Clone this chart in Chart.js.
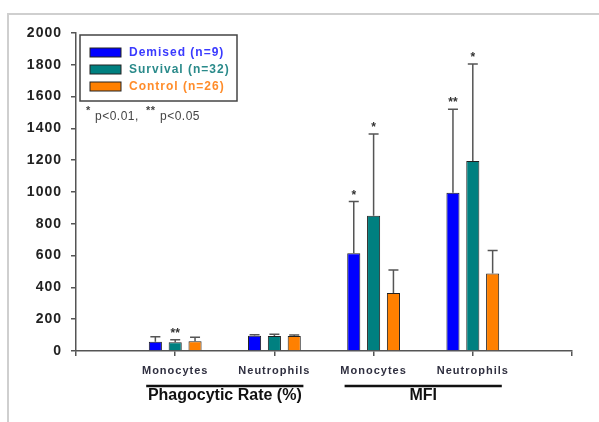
<!DOCTYPE html>
<html>
<head>
<meta charset="utf-8">
<script src="https://cdn.jsdelivr.net/npm/chart.js@4"></script>
<style>
    body { margin: 0; background: #fff; }
    #wrap { position: relative; width: 599px; height: 422px; }
    #frame { position: absolute; left: 7px; top: 13px; right: -5px; bottom: -5px; border-left: 2px solid #cfcfcf; border-top: 2px solid #cfcfcf; }
    canvas { position: absolute; left: 0; top: 0; }
</style>
</head>
<body>
<div id="wrap">
    <div id="frame"></div>
    <canvas id="chart" width="599" height="422"></canvas>
</div>
<script>
// 데이터
const categories = ['', 'Monocytes', 'Neutrophils', 'Monocytes', 'Neutrophils', ''];
const groupLabels = ['Phagocytic Rate (%)', 'MFI'];
const yTicks = [0, 200, 400, 600, 800, 1000, 1200, 1400, 1600, 1800, 2000];

const demised = [null, 58, 96, 615, 995, null];
const demisedErr = [null, 32, 6, 325, 525, null];
const survival = [null, 55, 95, 850, 1195, null];
const survivalErr = [null, 15, 10, 515, 610, null];
const control = [null, 62, 95, 365, 487, null];
const controlErr = [null, 25, 6, 145, 145, null];

const demisedStars = ['', '', '', '*', '**', ''];
const survivalStars = ['', '**', '', '*', '*', ''];
const controlStars = ['', '', '', '', '', ''];

const FONT = "'Liberation Sans', Arial, sans-serif";

// 축 글자 간격
const spacingPlugin = {
    id: 'spacing',
    beforeDraw(chart) { chart.ctx.letterSpacing = '1px'; },
    afterDraw(chart) { chart.ctx.letterSpacing = '0px'; }
};

// 에러바 + 별표
const errorBarPlugin = {
    id: 'errorBars',
    afterDatasetsDraw(chart) {
        const ctx = chart.ctx;
        const y = chart.scales.y;
        chart.data.datasets.forEach((ds, di) => {
            const meta = chart.getDatasetMeta(di);
            meta.data.forEach((bar, i) => {
                const v = ds.data[i];
                if (v === null) return;
                const top = y.getPixelForValue(v + ds.errors[i]);
                ctx.save();
                ctx.letterSpacing = '0px';
                ctx.strokeStyle = '#555';
                ctx.lineWidth = 1.5;
                ctx.beginPath();
                ctx.moveTo(bar.x, bar.y);
                ctx.lineTo(bar.x, top);
                ctx.moveTo(bar.x - 5, top);
                ctx.lineTo(bar.x + 5, top);
                ctx.stroke();
                if (ds.stars[i]) {
                    ctx.fillStyle = '#333';
                    ctx.font = 'bold 12px ' + FONT;
                    ctx.textAlign = 'center';
                    ctx.textBaseline = 'alphabetic';
                    ctx.fillText(ds.stars[i], bar.x, top - 3);
                }
                ctx.restore();
            });
        });
    }
};

// 범례, 그룹 라벨
const extrasPlugin = {
    id: 'extras',
    afterDraw(chart) {
        const ctx = chart.ctx;
        const x = chart.scales.x;
        ctx.save();

        // legend box
        ctx.letterSpacing = '1px';
        ctx.fillStyle = '#fff';
        ctx.fillRect(80, 35, 157, 66);
        ctx.strokeStyle = '#444';
        ctx.lineWidth = 1.5;
        ctx.strokeRect(80, 35, 157, 66);
        const textColors = ['#3a3aff', '#2a8a8a', '#ff8c2a'];
        chart.data.datasets.forEach((ds, i) => {
            const ry = 48 + i * 17;
            ctx.fillStyle = ds.backgroundColor;
            ctx.fillRect(90, ry, 31, 9);
            ctx.strokeStyle = '#222';
            ctx.lineWidth = 1;
            ctx.strokeRect(90, ry, 31, 9);
            ctx.fillStyle = textColors[i];
            ctx.font = 'bold 12px ' + FONT;
            ctx.textBaseline = 'middle';
            ctx.textAlign = 'left';
            ctx.fillText(ds.label, 129, ry + 5);
        });

        // p-value note
        ctx.letterSpacing = '0.5px';
        ctx.fillStyle = '#444';
        ctx.textBaseline = 'alphabetic';
        ctx.font = 'bold 11px ' + FONT;
        ctx.fillText('*', 86, 114);
        ctx.font = '12px ' + FONT;
        ctx.fillText('p<0.01,', 95, 120);
        ctx.font = 'bold 11px ' + FONT;
        ctx.fillText('**', 146, 114);
        ctx.font = '12px ' + FONT;
        ctx.fillText('p<0.05', 160, 120);

        // group brackets
        ctx.letterSpacing = '0px';
        ctx.strokeStyle = '#111';
        ctx.lineWidth = 2.5;
        ctx.fillStyle = '#111';
        ctx.font = 'bold 16px ' + FONT;
        ctx.textAlign = 'center';
        ctx.textBaseline = 'middle';
        groupLabels.forEach((lab, g) => {
            const x1 = x.getPixelForValue(1 + g * 2) - 29;
            const x2 = x.getPixelForValue(2 + g * 2) + 29;
            ctx.beginPath();
            ctx.moveTo(x1, 386);
            ctx.lineTo(x2, 386);
            ctx.stroke();
            ctx.fillText(lab, (x1 + x2) / 2, 396);
        });
        ctx.restore();
    }
};

new Chart(document.getElementById('chart'), {
    type: 'bar',
    data: {
        labels: categories,
        datasets: [{
            label: 'Demised (n=9)',
            data: demised,
            errors: demisedErr,
            stars: demisedStars,
            backgroundColor: '#0000ff',
            borderColor: '#222',
            borderWidth: 1
        }, {
            label: 'Survival (n=32)',
            data: survival,
            errors: survivalErr,
            stars: survivalStars,
            backgroundColor: '#008080',
            borderColor: '#222',
            borderWidth: 1
        }, {
            label: 'Control (n=26)',
            data: control,
            errors: controlErr,
            stars: controlStars,
            backgroundColor: '#ff8000',
            borderColor: '#222',
            borderWidth: 1
        }]
    },
    options: {
        responsive: false,
        animation: false,
        categoryPercentage: 0.6,
        barPercentage: 0.66,
        layout: { padding: { left: 0, right: 27, top: 33, bottom: 0 } },
        plugins: {
            legend: { display: false },
            tooltip: { enabled: false }
        },
        scales: {
            x: {
                offset: false,
                grid: { display: true, drawOnChartArea: false, offset: false, tickLength: 5, color: '#555', lineWidth: 1.5 },
                border: { color: '#555', width: 1.5 },
                ticks: {
                    autoSkip: false,
                    maxRotation: 0,
                    padding: 8,
                    color: '#2f2f3f',
                    font: { family: FONT, size: 11, weight: 'bold' }
                },
                afterFit(scale) { scale.height = 71; }
            },
            y: {
                min: 0,
                max: 2000,
                afterBuildTicks(scale) { scale.ticks = yTicks.map(v => ({ value: v })); },
                grid: { display: true, drawOnChartArea: false, tickLength: 5, color: '#555', lineWidth: 1.5 },
                border: { color: '#555', width: 1.5 },
                ticks: {
                    padding: 9,
                    color: '#222',
                    font: { family: FONT, size: 14, weight: 'bold' },
                    callback: v => String(v)
                },
                afterFit(scale) { scale.width = 76; }
            }
        }
    },
    plugins: [spacingPlugin, errorBarPlugin, extrasPlugin]
});
</script>
</body>
</html>
